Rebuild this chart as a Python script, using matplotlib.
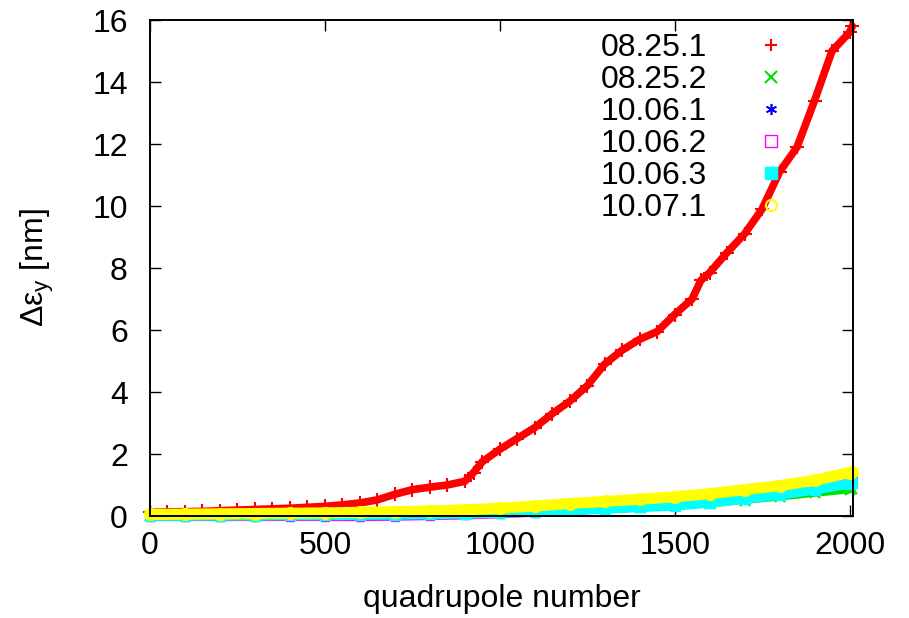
import matplotlib
matplotlib.use('Agg')
import matplotlib.pyplot as plt
from matplotlib.lines import Line2D

plt.rcParams['font.family'] = ['Liberation Sans', 'DejaVu Sans']
plt.rcParams['mathtext.fontset'] = 'custom'
plt.rcParams['mathtext.rm'] = 'Liberation Sans'
plt.rcParams['mathtext.it'] = 'Liberation Sans'

quad_fine = [0, 50, 100, 150, 200, 250, 300, 350, 400, 450, 500, 550, 600, 650,
             700, 750, 800, 850, 900, 925, 950, 1000, 1050, 1100, 1150, 1200, 1250,
             1300, 1350, 1400, 1450, 1500, 1550, 1575, 1600, 1650, 1700, 1750,
             1800, 1850, 1900, 1950, 2000, 2008]
quad_coarse = [0, 100, 200, 300, 400, 500, 600, 700, 800, 900, 1000, 1100, 1200,
               1300, 1400, 1500, 1600, 1700, 1800, 1900, 2000, 2008]

s_0825_1 = [0.12, 0.13, 0.14, 0.15, 0.17, 0.19, 0.21, 0.23, 0.25, 0.28, 0.31, 0.36,
            0.42, 0.52, 0.70, 0.85, 0.93, 1.00, 1.12, 1.40, 1.75, 2.15, 2.50, 2.85,
            3.30, 3.70, 4.20, 4.90, 5.35, 5.70, 5.95, 6.50, 7.00, 7.60, 7.85, 8.50,
            9.10, 9.90, 11.10, 11.90, 13.40, 15.00, 15.60, 15.80]
s_0825_2 = [0.00, 0.00, 0.01, 0.01, 0.02, 0.02, 0.03, 0.04, 0.05, 0.07, 0.09, 0.13,
            0.17, 0.21, 0.26, 0.31, 0.39, 0.50, 0.61, 0.73, 0.84, 0.86]
s_1006_1 = [-0.01, -0.01, -0.01, -0.01, 0.00, 0.00, 0.01, 0.02, 0.04, 0.06, 0.09,
            0.13, 0.17, 0.22, 0.28, 0.34, 0.43, 0.56, 0.71, 0.90, 1.16, 1.20]
s_1006_2 = [-0.03, -0.03, -0.03, -0.03, -0.03, -0.03, -0.03, -0.02, 0.00, 0.02, 0.06,
            0.11, 0.16, 0.22, 0.28, 0.34, 0.44, 0.58, 0.74, 0.94, 1.22, 1.26]
s_1006_3 = [0.00, 0.00, 0.01, 0.01, 0.02, 0.02, 0.03, 0.04, 0.05, 0.07, 0.10, 0.14,
            0.18, 0.23, 0.28, 0.33, 0.42, 0.55, 0.68, 0.85, 1.04, 1.06]
s_1007_1 = [0.05, 0.06, 0.07, 0.08, 0.09, 0.10, 0.12, 0.14, 0.16, 0.20, 0.25, 0.32,
            0.40, 0.47, 0.54, 0.62, 0.72, 0.85, 0.98, 1.15, 1.40, 1.42]

labels = ['08.25.1', '08.25.2', '10.06.1', '10.06.2', '10.06.3', '10.07.1']
colors = ['#ff0000', '#00e000', '#0000ff', '#ff00ff', '#00ffff', '#ffff00']
FS = 23

fig = plt.figure(figsize=(9.09, 6.18), dpi=100)
ax = fig.add_axes([150 / 909, 1 - 516 / 618, 703 / 909, 496 / 618])

series = [
    (quad_fine, s_0825_1, dict(marker='+', ms=10, mew=1.5, lw=5.5)),
    (quad_coarse, s_0825_2, dict(marker='x', ms=7, mew=1.5, lw=5)),
    (quad_coarse, s_1006_1, dict(marker=(6, 2, 0), ms=8, mew=1.2, lw=6)),
    (quad_coarse, s_1006_2, dict(marker='s', ms=6, mew=1.0, mfc='none', lw=6)),
    (quad_coarse, s_1006_3, dict(marker='s', ms=7, lw=7)),
    (quad_coarse, s_1007_1, dict(marker='o', ms=8, mew=1.5, mfc='none', lw=8)),
]
for (x, y, style), c in zip(series, colors):
    ax.plot(x, y, color=c, clip_on=False, solid_capstyle='round', **style)

ax.set_xlim(0, 2010)
ax.set_ylim(0, 16)
ax.set_xticks([0, 500, 1000, 1500, 2000])
ax.set_yticks(range(0, 17, 2))
ax.tick_params(direction='in', length=8, width=1, top=True, right=True,
               labelsize=FS, colors='black')
ax.tick_params(axis='x', pad=11)
ax.tick_params(axis='y', pad=16)
for sp in ax.spines.values():
    sp.set_linewidth(1.4)

ax.set_xlabel('quadrupole number', fontsize=FS, labelpad=16)
ax.set_ylabel(r'$\mathregular{\Delta\varepsilon_y}$ [nm]', fontsize=FS, labelpad=26)

handles = []
for (x, y, style), c, lab in zip(series, colors, labels):
    st = {k: v for k, v in style.items() if k != 'lw'}
    st['ms'] = 8
    handles.append(Line2D([], [], color=c, ls='none', label=lab, **st))
fig.legend(handles=handles, loc='upper right', bbox_to_anchor=(819 / 909, 1 - 33 / 618),
           bbox_transform=fig.transFigure, frameon=False, markerfirst=False,
           fontsize=FS, handlelength=3.0, handletextpad=0.5, labelspacing=0.065,
           borderpad=0, borderaxespad=0)

fig.savefig('out.png', dpi=100)
